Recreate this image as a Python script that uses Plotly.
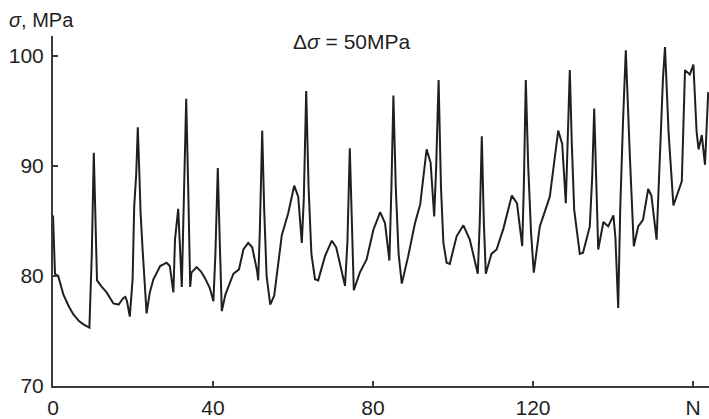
import plotly.graph_objects as go

# Cycle number N and measured stress sigma (MPa)
n_cycles = [
    0, 0.5, 1.3, 2.6, 4.0, 5.1, 6.5, 7.6, 9.1,
    9.3, 9.7, 10.2, 10.6, 11.0,
    12.2, 13.4, 15.1, 16.4, 17.6, 18.1, 18.5, 19.2,
    19.9, 20.3, 20.8, 21.2, 21.6, 21.9, 22.4, 22.8, 23.4,
    24.2, 25.1, 26.8, 28.4, 29.2, 30.1,
    30.5, 31.3, 32.2,
    32.8, 33.3, 33.8, 34.3,
    34.6, 35.9, 37.0, 38.0, 39.2, 40.1,
    40.6, 41.2, 41.7, 42.2,
    43.1, 45.1, 46.5, 47.6, 48.8, 49.8, 51.0, 51.3,
    51.7, 52.3, 52.8, 53.4, 54.3,
    55.3, 57.2, 58.8, 60.3, 61.3, 62.2,
    62.7, 63.3, 63.9, 64.6, 65.5,
    66.3, 68.0, 69.7, 70.8, 73.0,
    73.6, 74.2, 74.7, 75.2,
    76.7, 78.4, 80.1, 81.8, 83.0, 84.1,
    84.6, 85.1, 85.7, 86.4, 87.2,
    88.8, 90.5, 91.8, 93.4, 94.4, 95.3,
    95.8, 96.4, 97.0, 97.6, 98.4,
    99.2, 100.9, 102.6, 104.2, 106.2,
    106.7, 107.2, 107.7, 108.2,
    109.6, 110.9, 112.6, 114.7, 116.0, 117.3,
    117.7, 118.2, 118.8, 119.5, 120.2,
    121.7, 123.0, 124.2, 126.3, 127.3, 128.2,
    128.7, 129.2, 129.7, 130.3, 131.7, 132.5, 134.2,
    134.8, 135.3, 135.8, 136.3,
    137.6, 138.8, 140.1, 140.6, 141.3,
    141.8, 142.5, 143.2, 144.2, 145.2,
    146.3, 147.5, 148.8, 149.6, 150.9,
    151.7, 152.5, 153.0, 153.9, 155.1,
    156.4, 157.2, 158.0, 159.2, 160.1, 160.9, 161.4, 162.2, 163.0, 163.8,
]
sigma_mpa = [
    85.5, 80.2, 80.0, 78.3, 77.2, 76.5, 75.9, 75.6, 75.3,
    77.2, 82.0, 91.2, 84.0, 79.6,
    79.0, 78.5, 77.5, 77.4, 78.0, 78.1, 77.7, 76.3,
    79.7, 86.3, 89.2, 93.5, 89.2, 85.7, 82.4, 79.7, 76.6,
    78.5, 79.7, 80.9, 81.2, 80.9, 78.5,
    83.3, 86.1, 79.0,
    89.2, 96.1, 88.0, 79.0,
    80.3, 80.8, 80.4, 79.8, 78.9, 77.7,
    82.0, 89.8, 83.0, 76.8,
    78.3, 80.2, 80.6, 82.4, 83.0, 82.6, 80.5, 79.6,
    84.0, 93.2, 86.0, 80.0, 77.4,
    78.2, 83.7, 85.7, 88.2, 87.2, 83.0,
    87.0, 96.8, 88.0, 82.0, 79.7,
    79.6, 81.8, 83.2, 82.6, 79.1,
    83.0, 91.6, 84.0, 78.7,
    80.3, 81.5, 84.2, 85.8, 84.8, 81.4,
    88.0, 96.4, 88.0, 82.0, 79.3,
    81.8, 84.8, 86.5, 91.5, 90.3, 85.4,
    90.0, 97.8, 88.0, 83.0, 81.2,
    81.1, 83.6, 84.6, 83.3, 80.2,
    85.0, 92.7, 85.0, 80.2,
    82.0, 82.4, 84.3, 87.3, 86.6, 82.7,
    88.0, 97.8, 90.0, 84.0, 80.3,
    84.5, 86.0, 87.2, 93.2, 92.0, 86.6,
    92.0, 98.7, 92.0, 86.0, 82.0, 82.1, 84.5,
    89.0, 95.2, 88.0, 82.4,
    84.9, 84.5, 85.5, 83.5, 77.1,
    86.0, 94.0, 100.5, 91.0, 82.7,
    84.5, 85.1, 87.9, 87.3, 83.3,
    91.0, 98.0, 100.8, 93.0, 86.4,
    87.8, 88.6, 98.7, 98.3, 99.2, 93.1, 91.5, 92.8, 90.1, 96.7,
]

x_tick_vals = [0, 40, 80, 120, 160]
x_tick_text = ["0", "40", "80", "120", "N"]
y_tick_vals = [70, 80, 90, 100]

FONT = "Liberation Sans, Arial, Helvetica, sans-serif"
INK = "#1f1f1f"
AXIS = "#3a3a3a"

fig = go.Figure()
fig.add_trace(go.Scatter(
    x=n_cycles, y=sigma_mpa, mode="lines",
    line=dict(color=INK, width=2),
    hoverinfo="skip", showlegend=False,
))

fig.update_layout(
    width=709, height=419,
    margin=dict(l=53, r=0, t=36, b=26),
    paper_bgcolor="white", plot_bgcolor="white",
    font=dict(family=FONT, size=21, color=INK),
    xaxis=dict(
        range=[0, 164], tickvals=x_tick_vals, ticktext=x_tick_text,
        showgrid=False, zeroline=False,
        showline=True, linecolor=AXIS, linewidth=2,
        ticks="inside", ticklen=5, tickwidth=2, tickcolor=AXIS,
        ticklabelstandoff=2,
        tickfont=dict(family=FONT, size=21, color=INK),
    ),
    yaxis=dict(
        range=[70, 101.8], tickvals=y_tick_vals,
        showgrid=False, zeroline=False,
        showline=True, linecolor=AXIS, linewidth=2,
        ticks="inside", ticklen=5, tickwidth=2, tickcolor=AXIS,
        ticklabelstandoff=3,
        tickfont=dict(family=FONT, size=21, color=INK),
    ),
    annotations=[
        dict(text="<i>σ</i>, MPa", xref="paper", yref="paper",
             x=(7 - 53) / 656, y=(392.7 - 20) / 356.7,
             xanchor="left", yanchor="middle", showarrow=False,
             font=dict(family=FONT, size=20, color=INK)),
        dict(text="Δ<i>σ</i> = 50MPa", xref="paper", yref="paper",
             x=(351 - 53) / 656, y=(392.7 - 42) / 356.7,
             xanchor="center", yanchor="middle", showarrow=False,
             font=dict(family=FONT, size=21, color=INK)),
    ],
)

fig.write_html("out.html")
